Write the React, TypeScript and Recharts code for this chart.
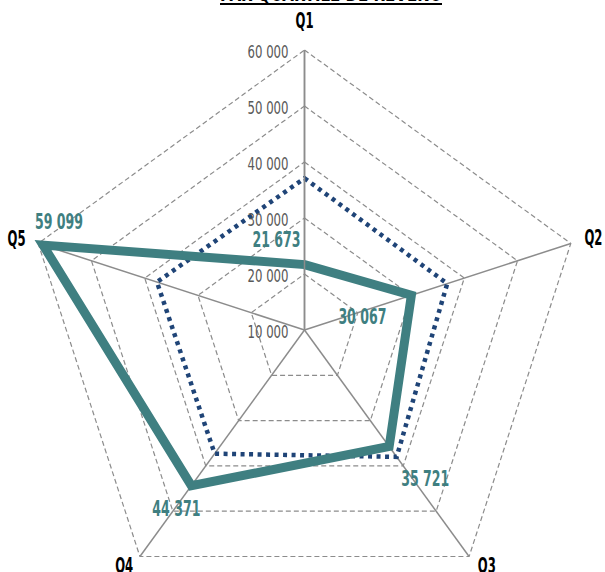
import React from 'react';
import {
  RadarChart,
  Radar,
  PolarGrid,
  PolarAngleAxis,
  PolarRadiusAxis,
} from 'recharts';

const QUARTILES = ['Q1', 'Q2', 'Q3', 'Q4', 'Q5'];
const REVENU_QUARTILE = [21673, 30067, 35721, 44371, 59099];
const REVENU_ENSEMBLE = [37100, 36800, 38000, 37300, 37700];
const RADIUS_TICKS = [10000, 20000, 30000, 40000, 50000, 60000];
const TITLE = 'PAR QUARTILE DE REVENU';

const TEAL = '#3f7f81';
const NAVY = '#1f4477';
const GRID = '#8c8c8c';
const FONT = '"DejaVu Sans Condensed", "DejaVu Sans", sans-serif';

// label nudges relative to each point / axis tip
const VALUE_OFFSETS = [
  [-28, -25],
  [-49, 22],
  [36, 32],
  [-15, 23],
  [16, -23],
];
const AXIS_OFFSETS = [
  [0, -21],
  [15, -3],
  [13, 3],
  [-11, 3],
  [-14, -2],
];

const fmt = (v: number) => String(v).replace(/\B(?=(\d{3})+(?!\d))/g, ' ');

const data = QUARTILES.map((q, i) => ({
  quartile: q,
  revenu: REVENU_QUARTILE[i],
  ensemble: REVENU_ENSEMBLE[i],
}));

function AngleTick(props: any) {
  const { x, y, payload, index } = props;
  const [dx, dy] = AXIS_OFFSETS[index] ?? [0, 0];
  return (
    <text
      x={x + dx}
      y={y + dy}
      textAnchor="middle"
      dominantBaseline="central"
      fontFamily={FONT}
      fontWeight="bold"
      fontSize={21}
      fill="#000"
      textLength={18}
      lengthAdjust="spacingAndGlyphs"
    >
      {payload.value}
    </text>
  );
}

function RadiusTick(props: any) {
  const { x, y, payload } = props;
  return (
    <text
      x={x - 16}
      y={y + 2}
      textAnchor="end"
      dominantBaseline="central"
      fontFamily={FONT}
      fontSize={17}
      fill="#595959"
      textLength={41}
      lengthAdjust="spacingAndGlyphs"
    >
      {fmt(payload.value)}
    </text>
  );
}

function ValueLabel(props: any) {
  const { cx, cy, index, payload } = props;
  const [dx, dy] = VALUE_OFFSETS[index] ?? [0, 0];
  return (
    <text
      x={cx + dx}
      y={cy + dy}
      textAnchor="middle"
      dominantBaseline="central"
      fontFamily={FONT}
      fontWeight="bold"
      fontSize={20.5}
      fill={TEAL}
      textLength={48}
      lengthAdjust="spacingAndGlyphs"
    >
      {fmt(payload.revenu)}
    </text>
  );
}

export default function App() {
  return (
    <div
      style={{
        position: 'absolute',
        left: 0,
        top: 0,
        width: 605,
        height: 572,
        overflow: 'hidden',
        background: '#fff',
      }}
    >
      <svg
        width={605}
        height={20}
        style={{ position: 'absolute', left: 0, top: 0, zIndex: 1 }}
      >
        <text
          x={220}
          y={1}
          fontFamily={FONT}
          fontWeight="bold"
          fontSize={20}
          fill="#000"
          textLength={222}
          lengthAdjust="spacingAndGlyphs"
        >
          {TITLE}
        </text>
        <line x1={220} x2={442} y1={4} y2={4} stroke="#000" strokeWidth={2} />
      </svg>
      <RadarChart
        width={605}
        height={572}
        data={data}
        cx={304.5}
        cy={330}
        outerRadius={280}
        margin={{ top: 0, right: 0, bottom: 0, left: 0 }}
        style={{ position: 'absolute', left: 0, top: 0 }}
      >
        <PolarGrid
          gridType="polygon"
          polarRadius={[]}
          stroke={GRID}
          strokeWidth={1.5}
        />
        <PolarGrid
          gridType="polygon"
          radialLines={false}
          stroke={GRID}
          strokeWidth={1.2}
          strokeDasharray="5 3"
        />
        <PolarAngleAxis
          dataKey="quartile"
          tick={<AngleTick />}
          tickLine={false}
          axisLine={false}
        />
        <PolarRadiusAxis
          angle={90}
          domain={[10000, 60000]}
          ticks={RADIUS_TICKS}
          tick={<RadiusTick />}
          axisLine={{ stroke: GRID, strokeWidth: 1.5 }}
          tickLine={false}
        />
        <Radar
          dataKey="ensemble"
          stroke={NAVY}
          strokeWidth={4.5}
          strokeDasharray="4 4.5"
          fill="none"
          fillOpacity={0}
          dot={false}
          isAnimationActive={false}
        />
        <Radar
          dataKey="revenu"
          stroke={TEAL}
          strokeWidth={9}
          strokeLinejoin="miter"
          fill="none"
          fillOpacity={0}
          dot={(p: any) => <ValueLabel key={`v-${p.index}`} {...p} />}
          isAnimationActive={false}
        />
      </RadarChart>
    </div>
  );
}
